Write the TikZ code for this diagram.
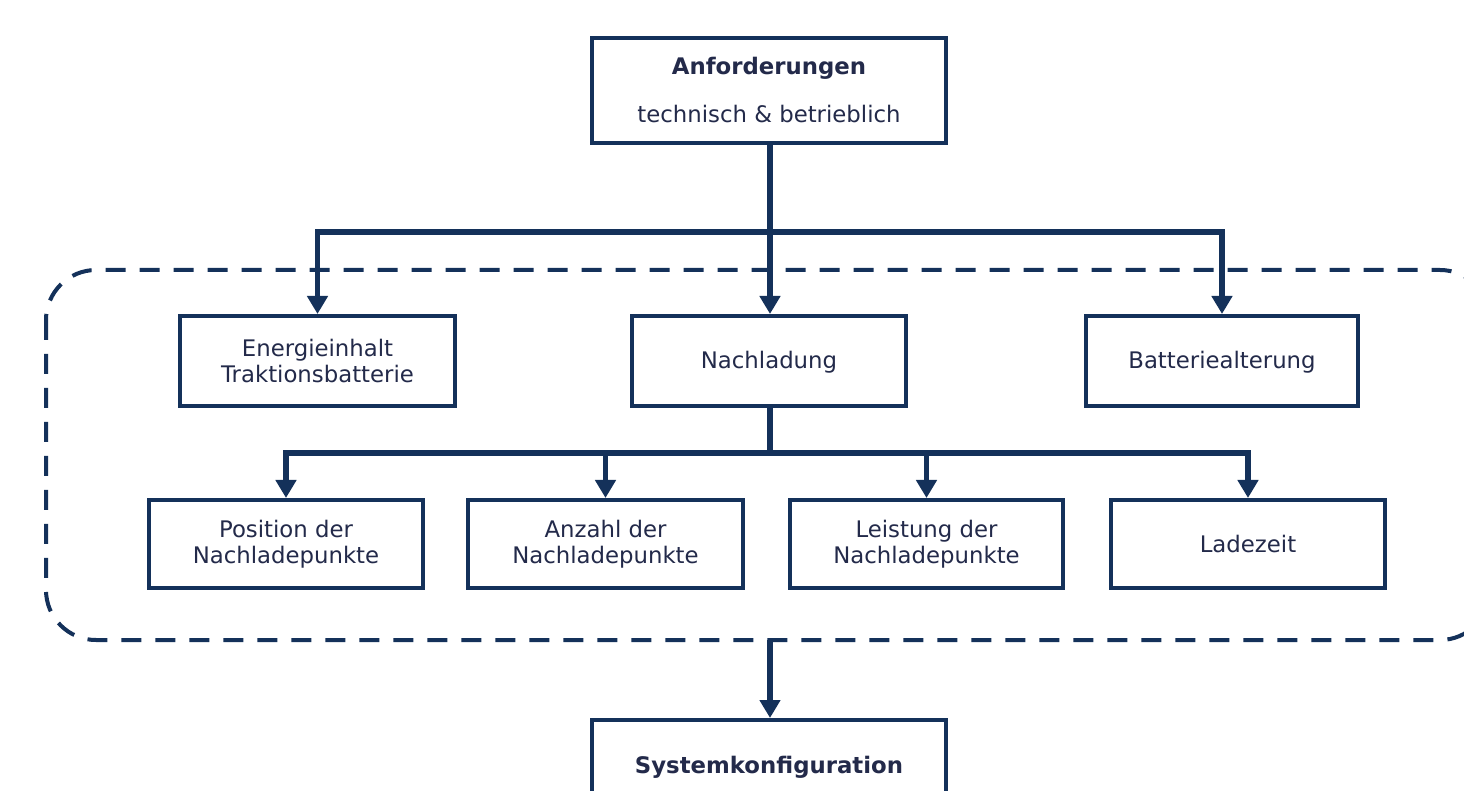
\documentclass[tikz,border=0pt]{standalone}
\usepackage{fontspec}
\setmainfont{DejaVu Sans}
\usetikzlibrary{arrows.meta}
\definecolor{navy}{HTML}{14315A}
\definecolor{txt}{HTML}{232A4A}
\tikzset{
  box/.style={draw=navy, line width=2pt, fill=white, text=txt, align=center,
    font=\fontsize{11.4pt}{13pt}\selectfont, inner sep=0pt},
  conn/.style={draw=navy, line width=2.6pt, line join=miter},
  arr/.style={conn, -{Triangle[width=10pt,length=9pt]}},
  group/.style={draw=navy, line width=2pt, dash pattern=on 10pt off 7pt, rounded corners=25pt}
}
\begin{document}
\begin{tikzpicture}[x=0.5pt,y=-0.5pt]
\useasboundingbox (0,0) rectangle (1464,791);
\clip (0,0) rectangle (1464,791);
\fill[white] (0,0) rectangle (1464,791);
% dashed group
\draw[group] (46,270) rectangle (1490,640);
% top box
\node[box, minimum width=177pt, minimum height=52.5pt] (anf) at (769,90.5)
  {\textbf{Anforderungen}\\[11pt]technisch \& betrieblich};
% level 2
\node[box, minimum width=137.5pt, minimum height=45pt] (ener) at (317.5,361) {Energieinhalt\\Traktionsbatterie};
\node[box, minimum width=137pt, minimum height=45pt, text depth=1.5pt] (nach) at (769,361) {Nachladung};
\node[box, minimum width=136pt, minimum height=45pt, text depth=1.5pt] (batt) at (1222,361) {Batteriealterung};
% level 3
\node[box, minimum width=137pt, minimum height=44pt] (pos) at (286,544) {Position der\\Nachladepunkte};
\node[box, minimum width=137.5pt, minimum height=44pt] (anz) at (605.5,544) {Anzahl der\\Nachladepunkte};
\node[box, minimum width=136.5pt, minimum height=44pt] (lei) at (926.5,544) {Leistung der\\Nachladepunkte};
\node[box, minimum width=137pt, minimum height=44pt] (lad) at (1248,544) {Ladezeit};
% bottom box
\node[box, minimum width=177pt, minimum height=47pt] (sys) at (769,767) {\textbf{Systemkonfiguration}};
% connectors level 1 -> 2
\coordinate (j1) at (770,232);
\draw[conn] (anf.south -| j1) -- (j1);
\draw[arr] (j1) -| (ener.north);
\draw[arr] (j1) -| (batt.north);
\draw[arr] (j1) -- (nach.north -| j1);
% connectors level 2 -> 3
\coordinate (j2) at (770,453);
\draw[conn] (nach.south -| j2) -- (j2);
\draw[arr] (j2) -| (pos.north);
\draw[arr] (j2 -| anz) -- (anz.north);
\draw[arr] (j2 -| lei) -- (lei.north);
\draw[arr] (j2) -| (lad.north);
% group -> system
\coordinate (g) at (770,640);
\draw[arr] (g) -- (sys.north -| g);
\end{tikzpicture}
\end{document}
